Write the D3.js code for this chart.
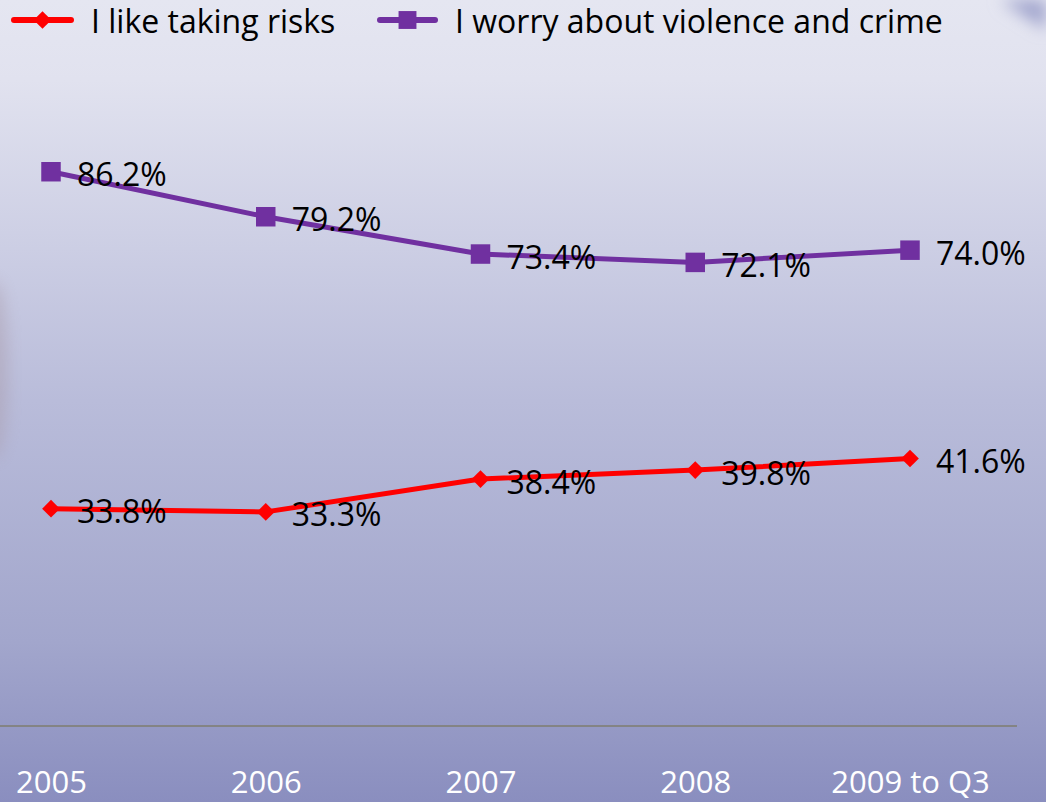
<!DOCTYPE html>
<html>
<head>
<meta charset="utf-8">
<script src="https://cdn.jsdelivr.net/npm/d3@7"></script>
<style>
  html, body { margin: 0; padding: 0; overflow: hidden; }
  svg { display: block; font-family: "Open Sans", "Noto Sans", sans-serif; }
</style>
</head>
<body>
<svg id="chart" width="1046" height="802"></svg>
<script>
const categories = ["2005", "2006", "2007", "2008", "2009 to Q3"];
const risks = [33.8, 33.3, 38.4, 39.8, 41.6];
const worry = [86.2, 79.2, 73.4, 72.1, 74.0];
const seriesNames = ["I like taking risks", "I worry about violence and crime"];
const yDomain = [0, 100];

const W = 1046, H = 802;
const svg = d3.select("#chart");
const defs = svg.append("defs");

const bg = defs.append("linearGradient").attr("id", "bg")
  .attr("x1", 0).attr("y1", 0).attr("x2", 0).attr("y2", 1);
bg.append("stop").attr("offset", "0%").attr("stop-color", "#e5e6f1");
bg.append("stop").attr("offset", "10%").attr("stop-color", "#e1e2ef");
bg.append("stop").attr("offset", "50%").attr("stop-color", "#b9bcda");
bg.append("stop").attr("offset", "80%").attr("stop-color", "#a2a6cc");
bg.append("stop").attr("offset", "100%").attr("stop-color", "#8a8ebf");

const blur = defs.append("filter").attr("id", "blur")
  .attr("x", "-50%").attr("y", "-50%").attr("width", "200%").attr("height", "200%");
blur.append("feGaussianBlur").attr("stdDeviation", 8);

svg.append("rect").attr("width", W).attr("height", H).attr("fill", "url(#bg)");

// soft background shapes (blurred photo remnants)
svg.append("ellipse").attr("cx", -6).attr("cy", 370).attr("rx", 14).attr("ry", 90)
  .attr("fill", "#a89aa8").attr("opacity", 0.45).attr("filter", "url(#blur)");
svg.append("path").attr("d", "M1000,0 L1046,0 L1046,30 Z")
  .attr("fill", "#9fa3cc").attr("filter", "url(#blur)");

const x = d3.scalePoint().domain(categories).range([51, 910]);
const y = d3.scaleLinear().domain(yDomain).range([726, 83]);

// axis baseline
svg.append("line").attr("x1", 0).attr("x2", 1017)
  .attr("y1", y(0)).attr("y2", y(0))
  .attr("stroke", "#848484").attr("stroke-width", 2);

// x labels
const xAxis = d3.axisBottom(x).tickSize(0).tickPadding(0);
const gx = svg.append("g").attr("transform", `translate(0,${y(0)})`).call(xAxis);
gx.select(".domain").remove();
gx.selectAll("text")
  .attr("y", 67).attr("dy", 0)
  .attr("fill", "#ffffff")
  .style("font-size", "31px")
  .style("font-family", "'Open Sans', sans-serif");

const line = d3.line().x((d, i) => x(categories[i])).y(d => y(d));

const series = [
  { name: seriesNames[0], values: risks, color: "#ff0000", shape: d3.symbolDiamond2, size: 200 },
  { name: seriesNames[1], values: worry, color: "#7030a0", shape: d3.symbolSquare, size: 380 }
];

series.forEach(s => {
  const g = svg.append("g");
  g.append("path").datum(s.values)
    .attr("d", line).attr("fill", "none")
    .attr("stroke", s.color).attr("stroke-width", 5)
    .attr("stroke-linejoin", "round");
  g.selectAll("path.m").data(s.values).enter().append("path")
    .attr("class", "m")
    .attr("transform", (d, i) => `translate(${x(categories[i])},${y(d)})`)
    .attr("d", d3.symbol().type(s.shape).size(s.size))
    .attr("fill", s.color);
  g.selectAll("text").data(s.values).enter().append("text")
    .attr("x", (d, i) => x(categories[i]) + 26)
    .attr("y", d => y(d) + 2)
    .attr("dominant-baseline", "central")
    .attr("fill", "#000")
    .style("font-size", "32px")
    .text(d => d.toFixed(1) + "%");
});

// legend
const legend = [
  { x0: 14, x1: 71, tx: 91, s: series[0] },
  { x0: 380, x1: 435, tx: 455, s: series[1] }
];
legend.forEach(l => {
  const g = svg.append("g");
  g.append("line").attr("x1", l.x0).attr("x2", l.x1).attr("y1", 20).attr("y2", 20)
    .attr("stroke", l.s.color).attr("stroke-width", 6).attr("stroke-linecap", "round");
  g.append("path").attr("transform", `translate(${(l.x0 + l.x1) / 2},20)`)
    .attr("d", d3.symbol().type(l.s.shape).size(l.s.shape === d3.symbolSquare ? 320 : 200))
    .attr("fill", l.s.color);
  g.append("text").attr("x", l.tx).attr("y", 20).attr("dominant-baseline", "central")
    .attr("fill", "#000").style("font-size", "32px").text(l.s.name);
});
</script>
</body>
</html>
